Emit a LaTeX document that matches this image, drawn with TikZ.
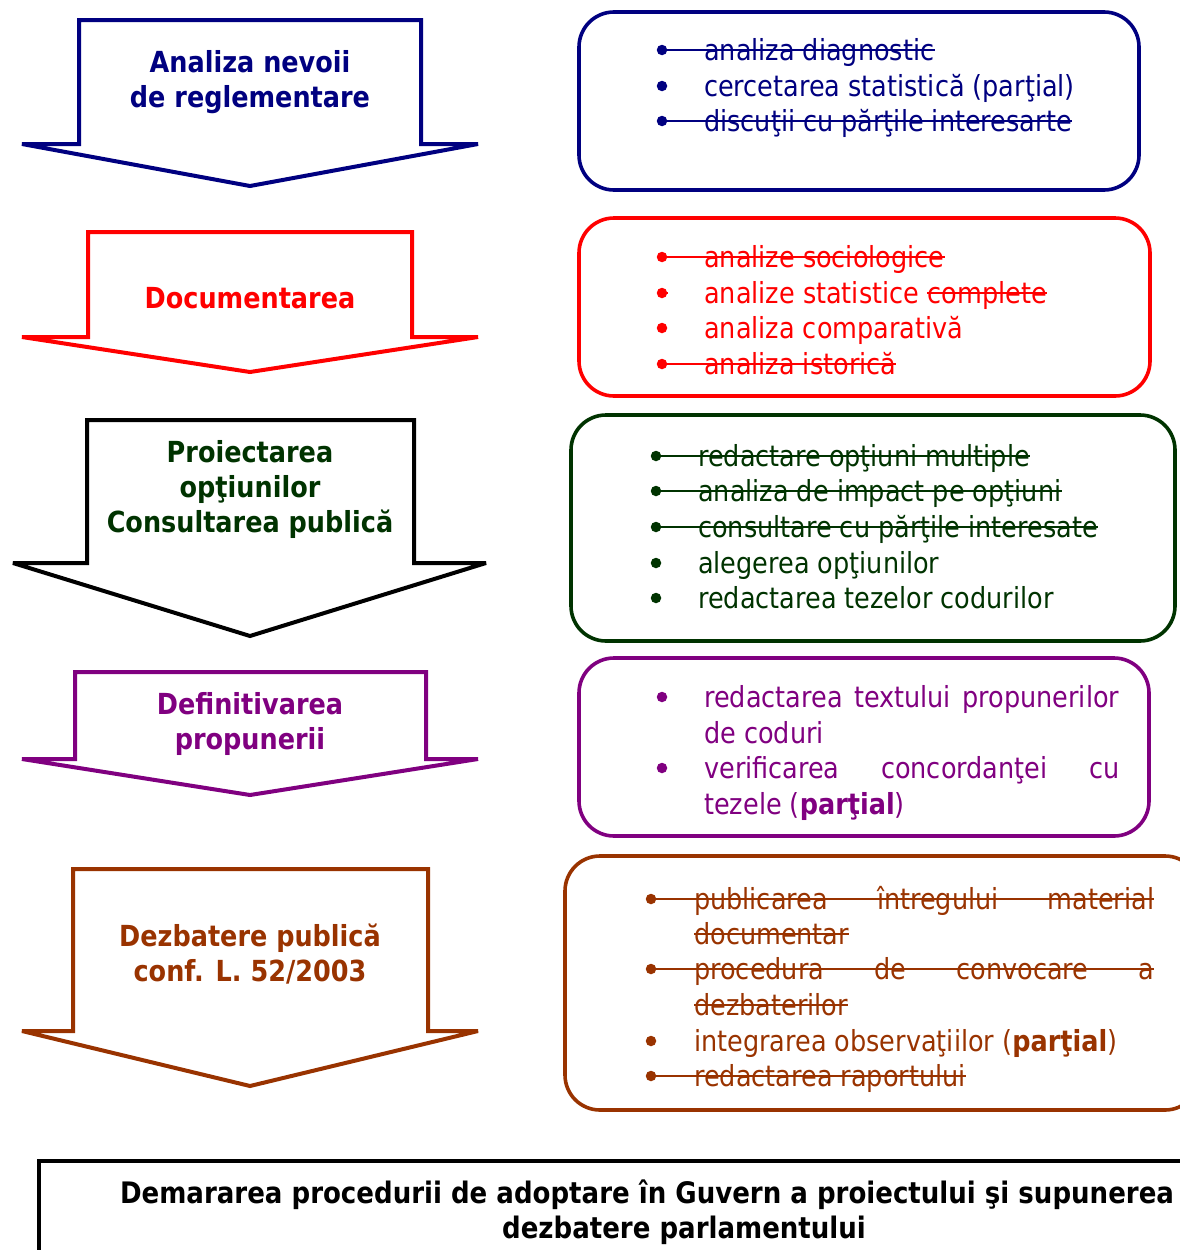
\documentclass[tikz,border=0pt]{standalone}
\usepackage{fontspec}
\setmainfont{DejaVu Sans}[FakeStretch=0.88]
\definecolor{cnavy}{RGB}{0,0,128}
\definecolor{cred}{RGB}{255,0,0}
\definecolor{cgreen}{RGB}{0,51,0}
\definecolor{cpurple}{RGB}{128,0,128}
\definecolor{cbrown}{RGB}{153,51,0}
\begin{document}
\begin{tikzpicture}[x=1pt,y=-1pt,
  arrowshape/.style={line width=4pt, line join=miter, miter limit=3, fill=white},
  title/.style={font=\fontsize{29}{35}\selectfont\bfseries, align=center, inner sep=0},
  rbox/.style={line width=3.6pt, rounded corners=35pt},
  item/.style={font=\fontsize{29}{35}\selectfont, anchor=base west, inner sep=0},
  bul/.style={circle, fill, inner sep=0, minimum size=10.5pt},
  strk/.style={line width=2pt}]
\useasboundingbox (0,0) rectangle (1180,1250);
\clip (0,0) rectangle (1180,1250);

% ---------- arrows ----------
\draw[arrowshape, draw=cnavy] (79,20) -- (421,20) -- (421,144) -- (478,144) -- (250,186) -- (22,144) -- (79,144) -- cycle;
\node[title, text=cnavy] (a1) at (250,82.5) {Analiza nevoii\\de reglementare};

\draw[arrowshape, draw=cred] (88,232) -- (412,232) -- (412,337) -- (478,337) -- (250,372) -- (22,337) -- (88,337) -- cycle;
\node[title, text=cred] (a2) at (250,298.5) {Documentarea};

\draw[arrowshape, draw=black] (87,420) -- (414,420) -- (414,563) -- (486,563) -- (250,636) -- (13,563) -- (87,563) -- cycle;
\node[title, text=cgreen] (a3) at (250,489.5) {Proiectarea\\opţiunilor\\Consultarea publică};

\draw[arrowshape, draw=cpurple] (75,672) -- (426,672) -- (426,759) -- (478,759) -- (250,795) -- (22,759) -- (75,759) -- cycle;
\node[title, text=cpurple] (a4) at (250,723.5) {Definitivarea\\propunerii};

\draw[arrowshape, draw=cbrown] (73,869) -- (428,869) -- (428,1031) -- (478,1031) -- (250,1086) -- (22,1031) -- (73,1031) -- cycle;
\node[title, text=cbrown] (a5) at (250,954) {Dezbatere publică\\conf. L. 52/2003};

% ---------- box 1 ----------
\draw[rbox, cnavy] (579,12) rectangle (1139,190);
\node[bul, cnavy] (b1a) at (662,50) {};
\node[bul, cnavy] (b1b) at (662,86) {};
\node[bul, cnavy] (b1c) at (662,121) {};
\node[item, text=cnavy] (t1a) at (704,60) {analiza diagnostic};
\node[item, text=cnavy] (t1b) at (704,96) {cercetarea statistică (parţial)};
\node[item, text=cnavy] (t1c) at (704,131) {discuţii cu părţile interesarte};
\draw[strk, cnavy] ([xshift=-4pt]b1a.center) -- ([yshift=10pt]t1a.base east);
\draw[strk, cnavy] ([xshift=-4pt]b1c.center) -- ([yshift=10pt]t1c.base east);

% ---------- box 2 ----------
\draw[rbox, cred] (579,218) rectangle (1150,396);
\node[bul, cred] (b2a) at (662,257) {};
\node[bul, cred] (b2b) at (662,293) {};
\node[bul, cred] (b2c) at (662,328) {};
\node[bul, cred] (b2d) at (662,364) {};
\node[item, text=cred] (t2a) at (704,267) {analize sociologice};
\node[item, text=cred] (t2b) at (704,303) {analize statistice};
\node[item, text=cred] (t2bc) at ([xshift=8pt]t2b.base east) {complete};
\node[item, text=cred] (t2c) at (704,338) {analiza comparativă};
\node[item, text=cred] (t2d) at (704,374) {analiza istorică};
\draw[strk, cred] ([xshift=-4pt]b2a.center) -- ([yshift=10pt]t2a.base east);
\draw[strk, cred] ([xshift=-4pt]b2b.center) -- ([xshift=6pt]b2b.center);
\draw[strk, cred] ([yshift=10pt]t2bc.base west) -- ([yshift=10pt]t2bc.base east);
\draw[strk, cred] ([xshift=-4pt]b2d.center) -- ([yshift=10pt]t2d.base east);

% ---------- box 3 ----------
\draw[rbox, cgreen] (571,415) rectangle (1175,641);
\node[bul, cgreen] (b3a) at (656,456) {};
\node[bul, cgreen] (b3b) at (656,491) {};
\node[bul, cgreen] (b3c) at (656,527) {};
\node[bul, cgreen] (b3d) at (656,563) {};
\node[bul, cgreen] (b3e) at (656,598) {};
\node[item, text=cgreen] (t3a) at (698,466) {redactare opţiuni multiple};
\node[item, text=cgreen] (t3b) at (698,501) {analiza de impact pe opţiuni};
\node[item, text=cgreen] (t3c) at (698,537) {consultare cu părţile interesate};
\node[item, text=cgreen] (t3d) at (698,573) {alegerea opţiunilor};
\node[item, text=cgreen] (t3e) at (698,608) {redactarea tezelor codurilor};
\draw[strk, cgreen] ([xshift=-4pt]b3a.center) -- ([yshift=10pt]t3a.base east);
\draw[strk, cgreen] ([xshift=-4pt]b3b.center) -- ([yshift=10pt]t3b.base east);
\draw[strk, cgreen] ([xshift=-4pt]b3c.center) -- ([yshift=10pt]t3c.base east);

% ---------- box 4 ----------
\draw[rbox, cpurple] (579,658) rectangle (1149,836);
\node[bul, cpurple] (b4a) at (662,697) {};
\node[bul, cpurple] (b4b) at (662,768) {};
\node[item, text=cpurple] (t4a) at (704,707) {\makebox[415pt][l]{redactarea\hfill textului\hfill propunerilor}};
\node[item, text=cpurple] (t4b) at (704,743) {de coduri};
\node[item, text=cpurple] (t4c) at (704,778) {\makebox[415pt][l]{verificarea\hfill concordanţei\hfill cu}};
\node[item, text=cpurple] (t4d) at (704,814) {tezele (\textbf{parţial})};

% ---------- box 5 ----------
\draw[rbox, cbrown] (565,856) rectangle (1200,1110);
\node[bul, cbrown] (b5a) at (651,899) {};
\node[bul, cbrown] (b5b) at (651,969) {};
\node[bul, cbrown] (b5c) at (651,1041) {};
\node[bul, cbrown] (b5d) at (651,1076) {};
\node[item, text=cbrown] (t5a) at (694,909) {\makebox[460pt][l]{publicarea\hfill întregului\hfill material}};
\node[item, text=cbrown] (t5b) at (694,944) {documentar};
\node[item, text=cbrown] (t5c) at (694,979) {\makebox[460pt][l]{procedura\hfill de\hfill convocare\hfill a}};
\node[item, text=cbrown] (t5d) at (694,1015) {dezbaterilor};
\node[item, text=cbrown] (t5e) at (694,1051) {integrarea observaţiilor (\textbf{parţial})};
\node[item, text=cbrown] (t5f) at (694,1086) {redactarea raportului};
\draw[strk, cbrown] ([xshift=-4pt]b5a.center) -- ([yshift=10pt]t5a.base east);
\draw[strk, cbrown] ([yshift=10pt]t5b.base west) -- ([yshift=10pt]t5b.base east);
\draw[strk, cbrown] ([xshift=-4pt]b5b.center) -- ([yshift=10pt]t5c.base east);
\draw[strk, cbrown] ([yshift=10pt]t5d.base west) -- ([yshift=10pt]t5d.base east);
\draw[strk, cbrown] ([xshift=-4pt]b5d.center) -- ([yshift=10pt]t5f.base east);

% ---------- bottom box ----------
\draw[line width=3.5pt, line join=miter] (39,1270) -- (39,1161) -- (1210,1161);
\node[inner sep=0, anchor=base, font=\fontsize{29.6}{35}\selectfont\bfseries] (f1) at (647,1203) {Demararea procedurii de adoptare în Guvern a proiectului şi supunerea};
\node[inner sep=0, anchor=base, font=\fontsize{29.6}{35}\selectfont\bfseries] (f2) at (684,1238) {dezbatere parlamentului};
\end{tikzpicture}
\end{document}
